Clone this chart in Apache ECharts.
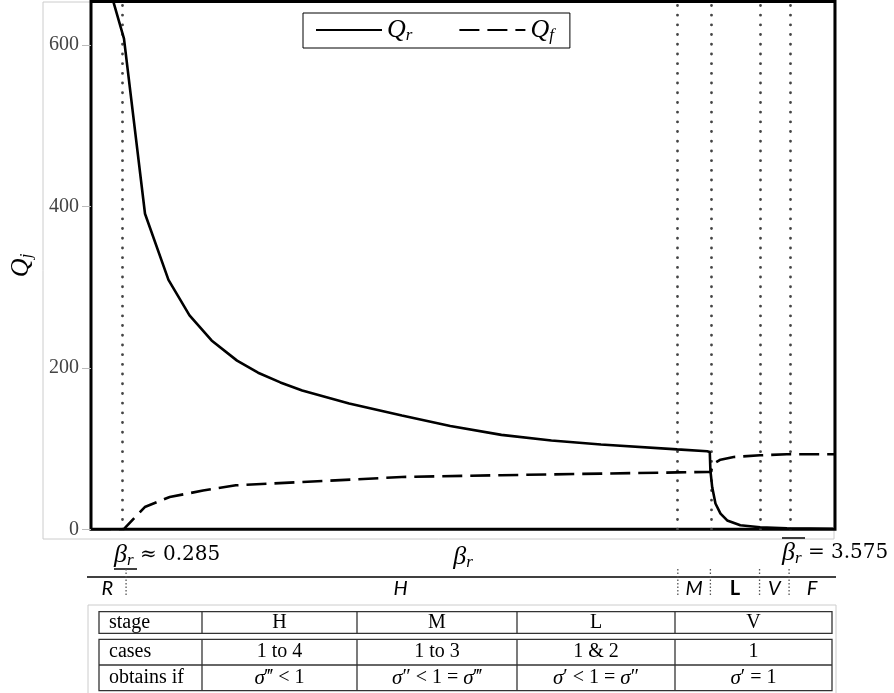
<!DOCTYPE html>
<html><head><meta charset="utf-8">
<script src="https://cdn.jsdelivr.net/npm/echarts@6/dist/echarts.min.js"></script>
<style>html,body{margin:0;padding:0;background:#fff}#c{width:894px;height:693px}</style>
</head><body><div id="c"></div>
<script>
// ---- data ----
const qrBeta   = [0.232, 0.287, 0.391, 0.507, 0.611, 0.720, 0.846, 0.950, 1.060, 1.168, 1.400, 1.661, 1.900, 2.153, 2.400, 2.645, 3.022, 3.170, 3.183, 3.186, 3.195, 3.211, 3.236, 3.269, 3.334, 3.432, 3.564, 3.792];
const qrValues = [656, 608, 391, 309, 265, 234, 209, 194, 182, 172, 156, 141, 128, 117, 110, 105, 99, 96.7, 95.8, 73, 52, 32, 19.5, 11, 5, 2.5, 1.2, 0.6];
const qfBeta   = [0.124, 0.285, 0.390, 0.513, 0.678, 0.840, 1.170, 1.660, 2.150, 2.645, 3.022, 3.170, 3.186, 3.203, 3.236, 3.301, 3.432, 3.564, 3.802];
const qfValues = [0, 0, 27.6, 40, 48, 54.5, 58.6, 64.8, 67, 69, 70.5, 71, 71, 81.4, 86.3, 89.6, 91.7, 93, 93];
const stageBounds = [0.285, 3.025, 3.186, 3.429, 3.575];
const yTicks = [0, 200, 400, 600];
const xRange = [0.124, 3.802];
const yRange = [0, 654];
const stageLetters = ['R', 'H', 'M', 'L', 'V', 'F'];
const tableHeader = ['stage', 'H', 'M', 'L', 'V'];
const tableCases = ['cases', '1 to 4', '1 to 3', '1 & 2', '1'];
const tableConds = ['obtains if', 'σ\u2034 < 1', 'σ\u2033 < 1 = σ\u2034', 'σ\u2032 < 1 = σ\u2033', 'σ\u2032 = 1'];
const tableColEdges = [99, 202, 357, 517, 675, 832];

const mathFont = 'Liberation Serif';
const mathRich = {
  q: {fontFamily: mathFont, fontStyle: 'italic', fontSize: 26, color: '#000', lineHeight: 28},
  b: {fontFamily: mathFont, fontStyle: 'italic', fontSize: 26, color: '#000', lineHeight: 28},
  s: {fontFamily: mathFont, fontStyle: 'italic', fontSize: 17, color: '#000', lineHeight: 11, verticalAlign: 'bottom'},
  n: {fontFamily: 'DejaVu Serif', fontSize: 20, color: '#000', lineHeight: 28}
};

const chart = echarts.init(document.getElementById('c'), null, {renderer: 'canvas'});
const option = {
  animation: false,
  backgroundColor: '#fff',
  grid: {left: 88, right: 59, top: 1.5, bottom: 163.7, show: true, borderColor: '#000', borderWidth: 3, backgroundColor: 'transparent'},
  legend: {
    left: 303, top: 13, data: ['Qr', 'Qf'],
    borderColor: '#000', borderWidth: 1, borderRadius: 0,
    padding: [4, 16, 4, 12], itemWidth: 66, itemHeight: 14, itemGap: 46,
    itemStyle: {opacity: 0},
    formatter: n => n === 'Qr' ? '{q|Q}{s|r}' : '{q|Q}{s|f}',
    textStyle: {rich: mathRich}
  },
  xAxis: {
    type: 'value', min: xRange[0], max: xRange[1],
    axisLine: {show: false}, axisTick: {show: false}, axisLabel: {show: false}, splitLine: {show: false},
    name: '{b|β}{s|r}', nameLocation: 'middle', nameGap: 14,
    nameTextStyle: {rich: mathRich}
  },
  yAxis: {
    type: 'value', min: yRange[0], max: yRange[1], interval: 200,
    axisLine: {show: false}, splitLine: {show: false},
    axisTick: {show: true, length: 9, lineStyle: {color: '#bbb'}, customValues: yTicks},
    axisLabel: {customValues: yTicks, fontFamily: 'Liberation Serif', fontSize: 20, color: '#444', margin: 12},
    name: '{q|Q}{s|j}', nameLocation: 'middle', nameGap: 56, nameRotate: 90,
    nameTextStyle: {rich: mathRich}
  },
  series: [
    {name: 'Qr', type: 'line', symbol: 'none', clip: true, z: 5,
     lineStyle: {color: '#000', width: 2.6},
     itemStyle: {color: '#000'},
     data: qrBeta.map((b, i) => [b, qrValues[i]])},
    {name: 'Qf', type: 'line', symbol: 'none', clip: true, z: 5,
     lineStyle: {color: '#000', width: 2.6, type: [20, 8]},
     itemStyle: {color: '#000'},
     data: qfBeta.map((b, i) => [b, qfValues[i]])},
    {name: 'bounds', type: 'line', data: [], symbol: 'none', z: 3,
     markLine: {symbol: 'none', silent: true, label: {show: false},
       lineStyle: {color: '#444', width: 2.8, type: [0.1, 9.6], cap: 'round'},
       data: stageBounds.map(b => ({xAxis: b}))}}
  ]
};
chart.setOption(option);

// ---- annotations below the plot ----
const px = b => chart.convertToPixel({gridIndex: 0}, [b, 0])[0];
const g = [];
g.push({type: 'rect', z: -1, shape: {x: 43, y: 2, width: 791, height: 537}, style: {fill: 'none', stroke: '#ccc', lineWidth: 1}});
g.push({type: 'text', x: 114, y: 555, style: {text: '{b|β}{s|r}{n| ≈ 0.285}', rich: mathRich, verticalAlign: 'middle'}});
g.push({type: 'line', shape: {x1: 114, y1: 569, x2: 137, y2: 569}, style: {stroke: '#000', lineWidth: 1.5}});
g.push({type: 'text', x: 782, y: 553, style: {text: '{b|β}{s|r}{n| = 3.575}', rich: mathRich, verticalAlign: 'middle'}});
g.push({type: 'line', shape: {x1: 782, y1: 538, x2: 805, y2: 538}, style: {stroke: '#000', lineWidth: 1.5}});
g.push({type: 'line', shape: {x1: 87, y1: 577, x2: 836, y2: 577}, style: {stroke: '#000', lineWidth: 1.6}});
const edges = [xRange[0]].concat(stageBounds, [xRange[1]]).map(px);
stageBounds.forEach(b => {
  const x = px(b) + (b === stageBounds[0] ? 2.5 : 0);
  g.push({type: 'line', shape: {x1: x, y1: 569, x2: x, y2: 596}, style: {stroke: '#555', lineWidth: 1.3, lineDash: [1.5, 2]}});
});
stageLetters.forEach((s, i) => {
  const xc = (edges[i] + edges[i + 1]) / 2;
  g.push({type: 'text', x: xc, y: 589, style: {text: s, fontFamily: 'Lato', fontSize: 20,
    fontStyle: s === 'L' ? 'normal' : 'italic', fontWeight: s === 'L' ? 'bold' : 'normal',
    fill: '#000', align: 'center', verticalAlign: 'middle'}});
});
g.push({type: 'polyline', shape: {points: [[88, 693], [88, 605], [836, 605], [836, 693]]}, style: {fill: 'none', stroke: '#ccc', lineWidth: 1}});
const tStroke = {fill: 'none', stroke: '#333', lineWidth: 1.3};
const tLeft = tableColEdges[0], tRight = tableColEdges[tableColEdges.length - 1];
g.push({type: 'rect', shape: {x: tLeft, y: 611.7, width: tRight - tLeft, height: 21.6}, style: tStroke});
g.push({type: 'rect', shape: {x: tLeft, y: 639.3, width: tRight - tLeft, height: 51.4}, style: tStroke});
g.push({type: 'line', shape: {x1: tLeft, y1: 665, x2: tRight, y2: 665}, style: {stroke: '#333', lineWidth: 1.3}});
tableColEdges.slice(1, -1).forEach(x => {
  g.push({type: 'line', shape: {x1: x, y1: 611.7, x2: x, y2: 633.3}, style: {stroke: '#333', lineWidth: 1.3}});
  g.push({type: 'line', shape: {x1: x, y1: 639.3, x2: x, y2: 690.7}, style: {stroke: '#333', lineWidth: 1.3}});
});
const tRich = {
  t: {fontFamily: 'Liberation Serif', fontSize: 20, color: '#111'},
  i: {fontFamily: 'Liberation Serif', fontSize: 21, fontStyle: 'italic', color: '#111'}
};
const toRich = t => t.split(/(σ)/).filter(p => p).map(p => p === 'σ' ? '{i|σ}' : '{t|' + p + '}').join('');
[[tableHeader, 622.5], [tableCases, 652], [tableConds, 678]].forEach(([row, y]) => {
  row.forEach((t, i) => {
    const first = i === 0;
    const xc = first ? tableColEdges[0] + 10 : (tableColEdges[i] + tableColEdges[i + 1]) / 2;
    g.push({type: 'text', x: xc, y: y, style: {text: toRich(t), rich: tRich,
      align: first ? 'left' : 'center', verticalAlign: 'middle'}});
  });
});
chart.setOption({graphic: {elements: g}});
</script></body></html>
